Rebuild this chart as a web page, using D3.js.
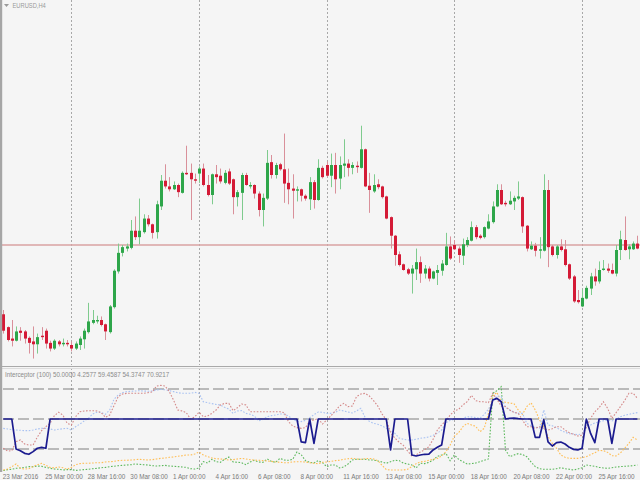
<!DOCTYPE html>
<html><head><meta charset="utf-8">
<script src="https://cdn.jsdelivr.net/npm/d3@7"></script>
<style>html,body{margin:0;padding:0;background:#f5f5f5;}svg{display:block;}</style>
</head><body><svg id="c" width="640" height="480"></svg>
<script>
const symbolTitle = "EURUSD,H4";
const indTitle = "Interceptor (100) 50.0000 4.2577 59.4587 54.3747 70.9217";
const timeLabels = ["23 Mar 2016","25 Mar 00:00","28 Mar 16:00","30 Mar 08:00","1 Apr 00:00","4 Apr 16:00","6 Apr 08:00","8 Apr 00:00","11 Apr 16:00","13 Apr 08:00","15 Apr 00:00","18 Apr 16:00","20 Apr 08:00","22 Apr 00:00","25 Apr 16:00"];
const timeLabelBars = [0,10,20,30,40,50,60,70,80,90,100,110,120,130,140];
const weekStartBars = [16,46,76,106,136];
const priceLine = 1.1299;
const levels = [25,50,75];

const opens = [
1.1202,1.1184,1.1168,1.1165,1.1179,1.1178,1.1169,1.1164,1.1160,1.1172,
1.1179,1.1162,1.1154,1.1164,1.1160,1.1162,1.1159,1.1154,1.1159,1.1167,
1.1177,1.1190,1.1192,1.1194,1.1188,1.1177,1.1212,1.1262,1.1288,1.1294,
1.1295,1.1319,1.1310,1.1317,1.1336,1.1328,1.1317,1.1353,1.1389,1.1381,
1.1377,1.1383,1.1372,1.1400,1.1400,1.1391,1.1399,1.1406,1.1383,1.1369,
1.1398,1.1396,1.1386,1.1402,1.1391,1.1366,1.1372,1.1397,1.1381,1.1383,
1.1371,1.1348,1.1364,1.1415,1.1397,1.1412,1.1405,1.1386,1.1378,1.1375,
1.1377,1.1368,1.1363,1.1387,1.1362,1.1407,1.1411,1.1396,1.1411,1.1392,
1.1410,1.1413,1.1407,1.1410,1.1407,1.1433,1.1382,1.1374,1.1384,1.1381,
1.1367,1.1338,1.1312,1.1286,1.1272,1.1265,1.1259,1.1265,1.1275,1.1259,
1.1266,1.1252,1.1260,1.1263,1.1271,1.1297,1.1299,1.1294,1.1284,1.1299,
1.1305,1.1324,1.1312,1.1310,1.1322,1.1331,1.1353,1.1376,1.1358,1.1356,
1.1360,1.1364,1.1366,1.1326,1.1293,1.1298,1.1291,1.1291,1.1376,1.1297,
1.1285,1.1297,1.1293,1.1272,1.1255,1.1222,1.1213,1.1224,1.1238,1.1255,
1.1248,1.1264,1.1266,1.1264,1.1259,1.1292,1.1306,1.1293,1.1293,1.1301];
const highs = [
1.1208,1.1185,1.1194,1.1185,1.1184,1.1180,1.1171,1.1185,1.1175,1.1184,
1.1182,1.1165,1.1167,1.1166,1.1168,1.1166,1.1164,1.1164,1.1171,1.1182,
1.1218,1.1208,1.1200,1.1199,1.1189,1.1215,1.1265,1.1301,1.1299,1.1301,
1.1334,1.1339,1.1364,1.1342,1.1341,1.1329,1.1361,1.1397,1.1412,1.1394,
1.1388,1.1385,1.1402,1.1438,1.1413,1.1399,1.1409,1.1413,1.1397,1.1399,
1.1411,1.1406,1.1404,1.1406,1.1392,1.1376,1.1400,1.1400,1.1387,1.1384,
1.1374,1.1371,1.1432,1.1425,1.1414,1.1414,1.1455,1.1406,1.1398,1.1381,
1.1378,1.1370,1.1394,1.1390,1.1419,1.1410,1.1416,1.1427,1.1428,1.1423,
1.1447,1.1419,1.1415,1.1416,1.1466,1.1434,1.1400,1.1398,1.1391,1.1382,
1.1368,1.1339,1.1313,1.1290,1.1273,1.1267,1.1271,1.1294,1.1283,1.1271,
1.1269,1.1263,1.1271,1.1278,1.1316,1.1311,1.1306,1.1297,1.1308,1.1310,
1.1332,1.1327,1.1314,1.1325,1.1342,1.1360,1.1384,1.1384,1.1361,1.1374,
1.1368,1.1388,1.1367,1.1327,1.1304,1.1302,1.1310,1.1398,1.1390,1.1299,
1.1299,1.1307,1.1306,1.1273,1.1257,1.1236,1.1237,1.1242,1.1260,1.1266,
1.1276,1.1278,1.1273,1.1273,1.1299,1.1319,1.1339,1.1300,1.1304,1.1312];
const lows = [
1.1175,1.1164,1.1157,1.1164,1.1165,1.1161,1.1147,1.1140,1.1147,1.1166,
1.1154,1.1150,1.1152,1.1157,1.1157,1.1157,1.1150,1.1152,1.1152,1.1154,
1.1175,1.1188,1.1189,1.1185,1.1166,1.1175,1.1210,1.1259,1.1283,1.1290,
1.1293,1.1306,1.1300,1.1315,1.1325,1.1308,1.1308,1.1348,1.1378,1.1374,
1.1376,1.1366,1.1371,1.1397,1.1334,1.1385,1.1386,1.1381,1.1367,1.1356,
1.1385,1.1385,1.1384,1.1383,1.1342,1.1353,1.1334,1.1382,1.1378,1.1364,
1.1339,1.1325,1.1362,1.1392,1.1392,1.1403,1.1358,1.1356,1.1336,1.1360,
1.1360,1.1361,1.1348,1.1350,1.1361,1.1392,1.1394,1.1380,1.1371,1.1377,
1.1394,1.1395,1.1398,1.1400,1.1406,1.1380,1.1344,1.1372,1.1377,1.1364,
1.1335,1.1294,1.1270,1.1269,1.1263,1.1257,1.1231,1.1250,1.1246,1.1252,
1.1248,1.1251,1.1243,1.1256,1.1270,1.1278,1.1292,1.1274,1.1271,1.1296,
1.1304,1.1307,1.1307,1.1308,1.1321,1.1329,1.1352,1.1355,1.1353,1.1355,
1.1348,1.1362,1.1316,1.1290,1.1292,1.1283,1.1280,1.1290,1.1268,1.1283,
1.1280,1.1290,1.1269,1.1250,1.1218,1.1217,1.1212,1.1223,1.1229,1.1242,
1.1245,1.1263,1.1260,1.1258,1.1255,1.1278,1.1291,1.1279,1.1292,1.1293];
const closes = [
1.1179,1.1166,1.1165,1.1178,1.1176,1.1168,1.1162,1.1160,1.1170,1.1170,
1.1161,1.1154,1.1165,1.1160,1.1162,1.1160,1.1154,1.1161,1.1168,1.1179,
1.1192,1.1194,1.1194,1.1187,1.1178,1.1213,1.1263,1.1288,1.1296,1.1297,
1.1319,1.1310,1.1319,1.1336,1.1328,1.1316,1.1356,1.1389,1.1381,1.1377,
1.1383,1.1373,1.1400,1.1398,1.1391,1.1389,1.1406,1.1383,1.1369,1.1398,
1.1394,1.1388,1.1400,1.1385,1.1366,1.1373,1.1397,1.1383,1.1383,1.1371,
1.1348,1.1365,1.1414,1.1397,1.1411,1.1405,1.1385,1.1377,1.1375,1.1377,
1.1368,1.1364,1.1387,1.1362,1.1407,1.1394,1.1396,1.1411,1.1391,1.1411,
1.1413,1.1407,1.1411,1.1408,1.1433,1.1381,1.1376,1.1383,1.1380,1.1366,
1.1336,1.1312,1.1285,1.1271,1.1264,1.1259,1.1266,1.1275,1.1259,1.1266,
1.1252,1.1262,1.1264,1.1273,1.1297,1.1280,1.1293,1.1285,1.1300,1.1306,
1.1324,1.1310,1.1309,1.1324,1.1332,1.1353,1.1376,1.1356,1.1356,1.1361,
1.1365,1.1367,1.1325,1.1294,1.1298,1.1291,1.1293,1.1376,1.1296,1.1285,
1.1297,1.1292,1.1271,1.1252,1.1220,1.1219,1.1225,1.1239,1.1255,1.1248,
1.1264,1.1266,1.1263,1.1259,1.1292,1.1307,1.1292,1.1297,1.1301,1.1294];

const interceptor = [
50,50,50,25,23.6,21.4,20.6,22.8,25.6,26.4,
25.6,50,50,50,50,50,50,50,50,50,
50,50,50,50,50,50,50,50,50,50,
50,50,50,50,50,50,50,50,50,50,
50,50,50,50,50,50,50,50,50,50,
50,50,50,50,50,50,50,50,50,50,
50,50,50,50,50,50,50,50,50,50,
31,30.3,50,29.7,50,50,50,50,50,50,
50,50,50,50,50,50,50,50,50,50,
50,24.2,50,50,50,50,20,19.2,20,20.6,
20.8,24.2,26.4,28.3,50,50,50,50,50,50,
50,50,50,50,50,65.8,67.2,64.4,50,50.5,
50.8,50.3,50,50,50,34.7,34.7,49.4,31,27.5,
30.3,30.8,29.2,26.4,24.7,24.2,25.6,50,38,30.3,
50,50,50,29.7,50,50,50,50,50,50];
const redLine = [
25.6,23.3,23.6,31.1,32.5,29.2,28.3,28.3,35,40.3,
43.6,46.4,52.8,55.6,53.3,46.4,45,51.9,56.1,56.7,
56.9,56.9,56.7,55.3,51.4,53.3,61.1,68.6,70.8,71.4,
71.4,71.4,71.4,71.4,71.9,72.5,77.5,78,77.5,72.8,
65.8,57.5,56.7,55.3,50,51.9,55.6,51.9,52.5,54.7,
57.5,61.7,63,63,56.9,59.4,62.5,61.7,56.1,56.1,
56.1,56.1,56.1,56.1,56.1,56.1,55.3,47.8,44.2,42.8,
42.2,42.8,48.3,49.2,50.3,45.8,49.2,52.8,56.7,60.8,
63,60.3,60.8,68.6,70.8,71.4,69.2,65.3,60.8,54.2,
49.2,38.6,34.2,30.6,28.1,23.3,19.2,20,22.5,24.4,
26.9,33.1,40.8,45,48.6,53.3,56.7,58.1,61.7,64.4,
69.7,65.3,64.4,64.4,63.6,71.4,66.4,60.8,60.3,57.5,
55.6,54.7,49.2,43.6,43.6,42.2,43.6,42.2,40.8,41.9,
43.6,43.6,40.8,38.6,37.2,35.8,36.4,43,50.6,56.1,
59.4,64.4,58.9,50.6,55.3,60.3,65.3,71.4,71.4,67.2];
const blueLine = [
42.2,41.7,41.1,40.8,40.6,40.3,40.3,40.8,41.7,42.2,
42.2,41.7,40.8,41.4,41.9,42.2,40.8,43.6,45.8,48.3,
50.6,54.2,55.6,55.6,53.9,57.5,66.4,70,71.9,72.8,
73.1,73.3,73.6,73.3,73.1,73.3,74.2,74.7,74.4,73.6,
72.8,71.9,71.4,71.4,71.4,72.2,71.4,64.4,63.6,62.8,
62.2,61.7,59.7,58.3,54.7,56.7,57,54.7,53.9,52.5,
48.3,49.7,51.9,52.8,53.3,54.2,54.2,52.5,49.7,48.3,
47.8,48.9,51.1,53.6,55.8,55.6,54.7,54.7,55.6,57.5,
56.7,55.8,55,56.7,58.9,51.4,48.1,46.4,45.6,44.2,
42.2,40,38.1,34.2,33.1,32.5,32.5,33.1,33.9,34.4,
35,36.4,38.1,40.8,46.9,48.9,49.7,49.7,50.6,51.9,
51.7,51.1,50.6,53.9,58.1,65.3,69.2,68.6,59.7,57.5,
55.6,54.7,54.7,46.4,44.4,43.1,42.5,57.5,45,44.4,
42.8,40.6,38.9,37.8,37.5,36.9,37.5,43.3,45,46.7,
47.5,48.6,48.9,48.3,49.7,51.9,53.1,53.9,54.7,55.3];
const orangeLine = [
7.5,8.3,10.3,12.5,8.9,8.3,8.6,10.3,11.9,13.1,
11.4,9.7,9.2,10,9.4,8.1,9.7,11.9,12.8,13.1,
13.1,13.3,13.6,13.6,14.2,14.4,14.7,15.3,15.6,15.6,
15.8,16.1,16.4,16.1,15.8,16.1,16.7,17.2,17.5,18.1,
18.3,18.9,19.4,20,20,20.8,22.5,20,18.6,17.5,
16.9,16.7,16.4,15.8,16.1,16.7,17.2,16.7,16.1,15.8,
15.6,15.3,15,14.7,14.2,13.9,13.6,13.6,14.2,14.4,
14.4,14.2,13.6,13.1,12.8,13.9,14.2,14.7,15.3,15.6,
16.4,16.9,17.2,16.7,16.4,16.9,17.2,16.7,15.3,11.4,
7.8,7.5,7.5,7.5,7.5,8.1,10.3,12.8,14.2,14.7,
15.6,16.4,17.2,19.2,22.8,28.3,35.8,38.6,43.6,46.4,
45,43.9,39.4,42.2,54.7,69.2,72.2,64.4,63.9,63.3,
62.8,57.5,53.9,60.3,63.6,57.5,49.2,43.6,35.3,29.7,
25.6,20,18.1,17.2,17.2,17.2,17.8,18.6,20.3,21.9,
23.9,23.6,22.2,19.4,19.2,21.7,25.6,29.7,34.7,32.5];
const greenLine = [
6.9,7.8,8.1,8.9,9.2,9.7,10.3,10.3,10.8,10.6,
9.7,8.9,8.3,8.1,7.5,7.8,7.8,7.2,7.5,7.8,
8.1,8.6,8.9,9.4,9.7,10.3,10.6,11.1,11.4,11.7,
11.9,12.5,12.2,11.9,11.7,11.1,10.8,11.1,11.4,10.8,
10.6,10.3,10,9.7,8.6,8.3,9.2,14.4,13.3,16.4,
14.4,13.9,16.4,18.3,14.2,13.9,13.6,11.9,14.2,15.6,
14.2,13.9,16.7,14.7,13.9,17.2,15.8,15.6,16.4,22.5,
20.3,15.3,13.9,13.3,15.3,13.6,10.3,11.7,11.7,9.2,
10,12.5,15.8,16.4,16.4,16.4,15.8,15.8,15,14.2,
13.1,14.4,15.6,15.3,13.3,12.5,11.7,9.2,13.1,12.8,
13.9,15.8,18.9,20,21.4,15.3,20,16.4,14.4,12.5,
12.8,13.3,14.4,15.6,16.7,71.4,73.6,77,24.2,18.6,
20,21.1,20.3,18.6,14.2,10.3,8.6,8.1,8.1,8.1,
8.6,9.4,8.6,8.1,7.5,8.3,9.4,11.7,11.1,10.6,
9.7,9.2,8.9,9.4,10,10.3,10.6,10.8,11.1,11.7];

const svg = d3.select("#c");
const W = 640, H = 480;
const mainTop = 0, mainBottom = 365, indTop = 368, indBottom = 471;
const FONT = "Liberation Sans, Arial, sans-serif";

svg.append("rect").attr("width", W).attr("height", H).attr("fill", "#f5f5f5");

const x = d3.scaleLinear().domain([0, opens.length - 1]).range([3.3, 637.4]);
const y = d3.scaleLinear().domain([1.1131, 1.1642]).range([mainBottom, mainTop]);
const yi = d3.scaleLinear().domain([0, 100]).range([479, 359]);

const defs = svg.append("defs");
defs.append("clipPath").attr("id", "mainClip").append("rect")
  .attr("x", 0).attr("y", mainTop).attr("width", W).attr("height", mainBottom - mainTop);
defs.append("clipPath").attr("id", "indClip").append("rect")
  .attr("x", 0).attr("y", indTop).attr("width", W).attr("height", indBottom - indTop);

// vertical week separators (dotted grid)
[[mainTop, mainBottom], [indTop, indBottom]].forEach(([a, b]) => {
  svg.append("g").selectAll("line").data(weekStartBars).join("line")
    .attr("x1", d => Math.round(x(d)) + 0.5).attr("x2", d => Math.round(x(d)) + 0.5)
    .attr("y1", a).attr("y2", b)
    .attr("stroke", "#a8a8a8").attr("stroke-width", 1).attr("stroke-dasharray", "2,2");
});

// main panel
const main = svg.append("g").attr("clip-path", "url(#mainClip)");
main.append("line").attr("x1", 0).attr("x2", W)
  .attr("y1", y(priceLine)).attr("y2", y(priceLine))
  .attr("stroke", "#d9a2a2").attr("stroke-width", 1.6);

const idx = d3.range(opens.length);
const up = i => closes[i] >= opens[i];
main.append("g").selectAll("line").data(idx).join("line")
  .attr("x1", i => Math.round(x(i)) + 0.5).attr("x2", i => Math.round(x(i)) + 0.5)
  .attr("y1", i => y(highs[i])).attr("y2", i => y(lows[i]))
  .attr("stroke", i => up(i) ? "#7fcb8e" : "#d9909a").attr("stroke-width", 1);
main.append("g").selectAll("rect").data(idx).join("rect")
  .attr("x", i => Math.round(x(i)) - 1)
  .attr("width", 3)
  .attr("y", i => y(Math.max(opens[i], closes[i])))
  .attr("height", i => Math.max(1.2, Math.abs(y(opens[i]) - y(closes[i]))))
  .attr("fill", i => up(i) ? "#2ea64a" : "#d41a36");

// title
svg.append("path").attr("d", "M4,4 L9,4 L6.5,7 Z").attr("fill", "#9a9a9a");
svg.append("text").attr("transform", "translate(12.5,8.3) scale(0.76,1)").text(symbolTitle)
  .attr("font-family", FONT).attr("font-size", 7.6)
  .attr("fill", "#9a9a9a");

// panel separators / borders
svg.append("line").attr("x1", 0).attr("x2", W).attr("y1", 366.5).attr("y2", 366.5).attr("stroke", "#a9a9a9");
svg.append("line").attr("x1", 0).attr("x2", W).attr("y1", 368.5).attr("y2", 368.5).attr("stroke", "#dcdcdc");
svg.append("rect").attr("x", 0).attr("y", 0).attr("width", 2.2).attr("height", 472).attr("fill", "#a6a6a6");

// indicator panel
const ind = svg.append("g").attr("clip-path", "url(#indClip)");
ind.append("g").selectAll("line").data(levels).join("line")
  .attr("x1", 3).attr("x2", W).attr("y1", d => yi(d)).attr("y2", d => yi(d))
  .attr("stroke", "#808080").attr("stroke-width", 1.2).attr("stroke-dasharray", "11,4");

const line = d3.line().x((d, i) => x(i)).y(d => yi(d));
const dotted = [
  [greenLine, "#5cb85c"],
  [orangeLine, "#ffbe55"],
  [blueLine, "#a9c2f2"],
  [redLine, "#d48888"]
];
dotted.forEach(([data, col]) => {
  ind.append("path").datum(data).attr("d", line).attr("fill", "none")
    .attr("stroke", col).attr("stroke-width", 1.1).attr("stroke-dasharray", "1.6,1.6");
});
ind.append("path").datum(interceptor).attr("d", line).attr("fill", "none")
  .attr("stroke", "#1b1b8f").attr("stroke-width", 1.7).attr("stroke-linejoin", "round");

svg.append("text").attr("transform", "translate(5,376.8) scale(0.845,1)").text(indTitle)
  .attr("font-family", FONT).attr("font-size", 7.4)
  .attr("fill", "#8a8a8a");

// time axis
const axisG = svg.append("g");
axisG.selectAll("text").data(timeLabels).join("text")
  .attr("transform", (d, i) => `translate(${x(timeLabelBars[i]) - 0.6},478.8) scale(0.86,1)`)
  .text(d => d)
  .attr("font-family", FONT).attr("font-size", 7.4)
  .attr("fill", "#7a7a7a");
</script></body></html>
